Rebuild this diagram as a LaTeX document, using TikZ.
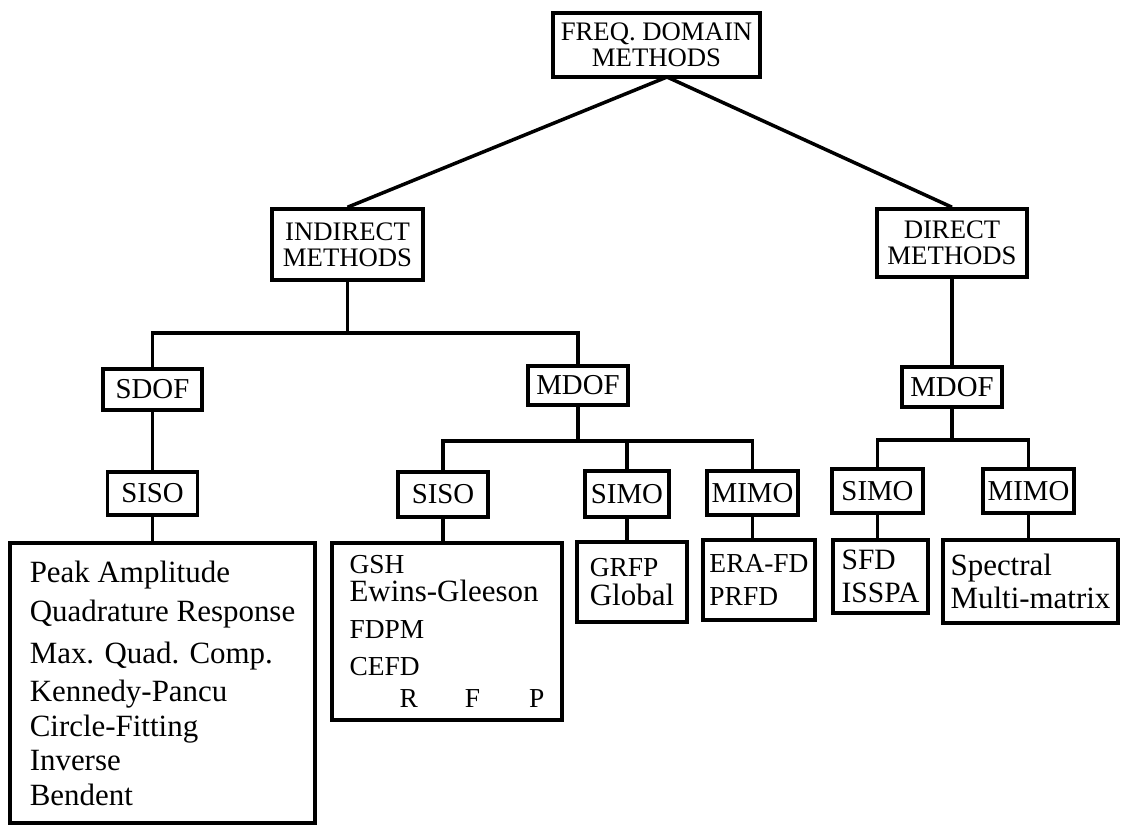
\documentclass[tikz,border=0pt]{standalone}
\usepackage{fontspec}
\setmainfont{Liberation Serif}
\begin{document}
\begin{tikzpicture}[x=0.025cm, y=-0.025cm, line width=2.5pt,
	bx/.style={draw, inner sep=0pt, align=center},
	sz/.style 2 args={minimum width=#1*\pw, minimum height=#2*\pw},
	hdr/.style={bx, font=\fontsize{19}{18.5}\selectfont},
	lbl/.style={bx, font=\fontsize{20.5}{24}\selectfont},
	lst/.style={bx, align=left, font=\fontsize{22}{23}\selectfont}]
	\def\pw{0.025cm} % one pixel
	\def\ac#1{{\fontsize{19.5}{20}\selectfont #1}}
	\useasboundingbox (0,0) rectangle (1122,825);
	% top levels
	\node[hdr, sz={207}{64}] (top) at (656.5,45) {FREQ. DOMAIN\\METHODS};
	\node[hdr, sz={151}{71}] (indirect) at (347.5,244.5) {INDIRECT\\METHODS};
	\node[hdr, sz={150}{68}] (direct) at (952,243) {DIRECT\\METHODS};
	\coordinate (apex) at (667,77);
	\draw (apex)--(indirect.north);
	\draw (apex)--(direct.north);
	% dof level
	\node[lbl, sz={99}{41}] (sdof) at (152.5,389.5) {SDOF};
	\node[lbl, sz={100}{39}] (mdofa) at (578,385.5) {MDOF};
	\node[lbl, sz={100}{40}] (mdofb) at (952,387) {MDOF};
	\coordinate (ja) at (347.5,333);
	\draw (indirect.south)--(ja);
	\draw (sdof.north) |- (ja) -| (mdofa.north);
	\draw (direct.south)--(mdofb.north);
	% input/output level
	\node[lbl, sz={90}{43}] (sisoa) at (152.5,493.5) {SISO};
	\node[lbl, sz={90}{45}] (sisob) at (443,494.5) {SISO};
	\node[lbl, sz={84}{46}] (simoa) at (627,494) {SIMO};
	\node[lbl, sz={91}{44}] (mimoa) at (752.5,493) {MIMO};
	\node[lbl, sz={91}{44}] (simob) at (877.5,491) {SIMO};
	\node[lbl, sz={91}{44}] (mimob) at (1028.5,491) {MIMO};
	\coordinate (jb) at (578,441);
	\coordinate (jc) at (952,440);
	\draw (sdof.south)--(sisoa.north);
	\draw (mdofa.south)--(jb);
	\draw (sisob.north) |- (jb) -| (mimoa.north);
	\draw (simoa.north)--(simoa.north |- jb);
	\draw (mdofb.south)--(jc);
	\draw (simob.north) |- (jc) -| (mimob.north);
	% method lists
	\node[lst, sz={305}{280}, font=\fontsize{22}{27}\selectfont] (peak) at (162.5,683)
		{Peak Amplitude\\[1pt]Quadrature Response\\[3pt]Max. Quad. Comp.\\Kennedy-Pancu\\[-2.5pt]Circle-Fitting\\[-2.5pt]Inverse\\[-2.5pt]Bendent};
	\node[lst, sz={230}{177}] (gsh) at (447,631.5)
		{\ac{GSH}\\[-3.3pt]Ewins-Gleeson\\[4pt]\ac{FDPM}\\[3pt]\ac{CEFD}\\\hspace*{1.25cm}\ac{R}\hspace{1.175cm}\ac{F}\hspace{1.225cm}\ac{P}};
	\node[lst, sz={110}{80}, font=\fontsize{22}{21}\selectfont] (grfp) at (632,582) {\ac{GRFP}\\Global};
	\node[lst, sz={112}{80}] (era) at (759,580) {\ac{ERA-FD}\\\ac{PRFD}};
	\node[lst, sz={95}{73}, font=\fontsize{21}{23}\selectfont] (sfd) at (880.5,576.5) {SFD\\ISSPA};
	\node[lst, sz={175}{83}] (spec) at (1030.5,581.5) {Spectral\\Multi-matrix};
	\draw (sisoa.south)--(sisoa.south |- peak.north);
	\draw (sisob.south)--(sisob.south |- gsh.north);
	\draw (simoa.south)--(simoa.south |- grfp.north);
	\draw (mimoa.south)--(mimoa.south |- era.north);
	\draw (simob.south)--(simob.south |- sfd.north);
	\draw (mimob.south)--(mimob.south |- spec.north);
\end{tikzpicture}
\end{document}
